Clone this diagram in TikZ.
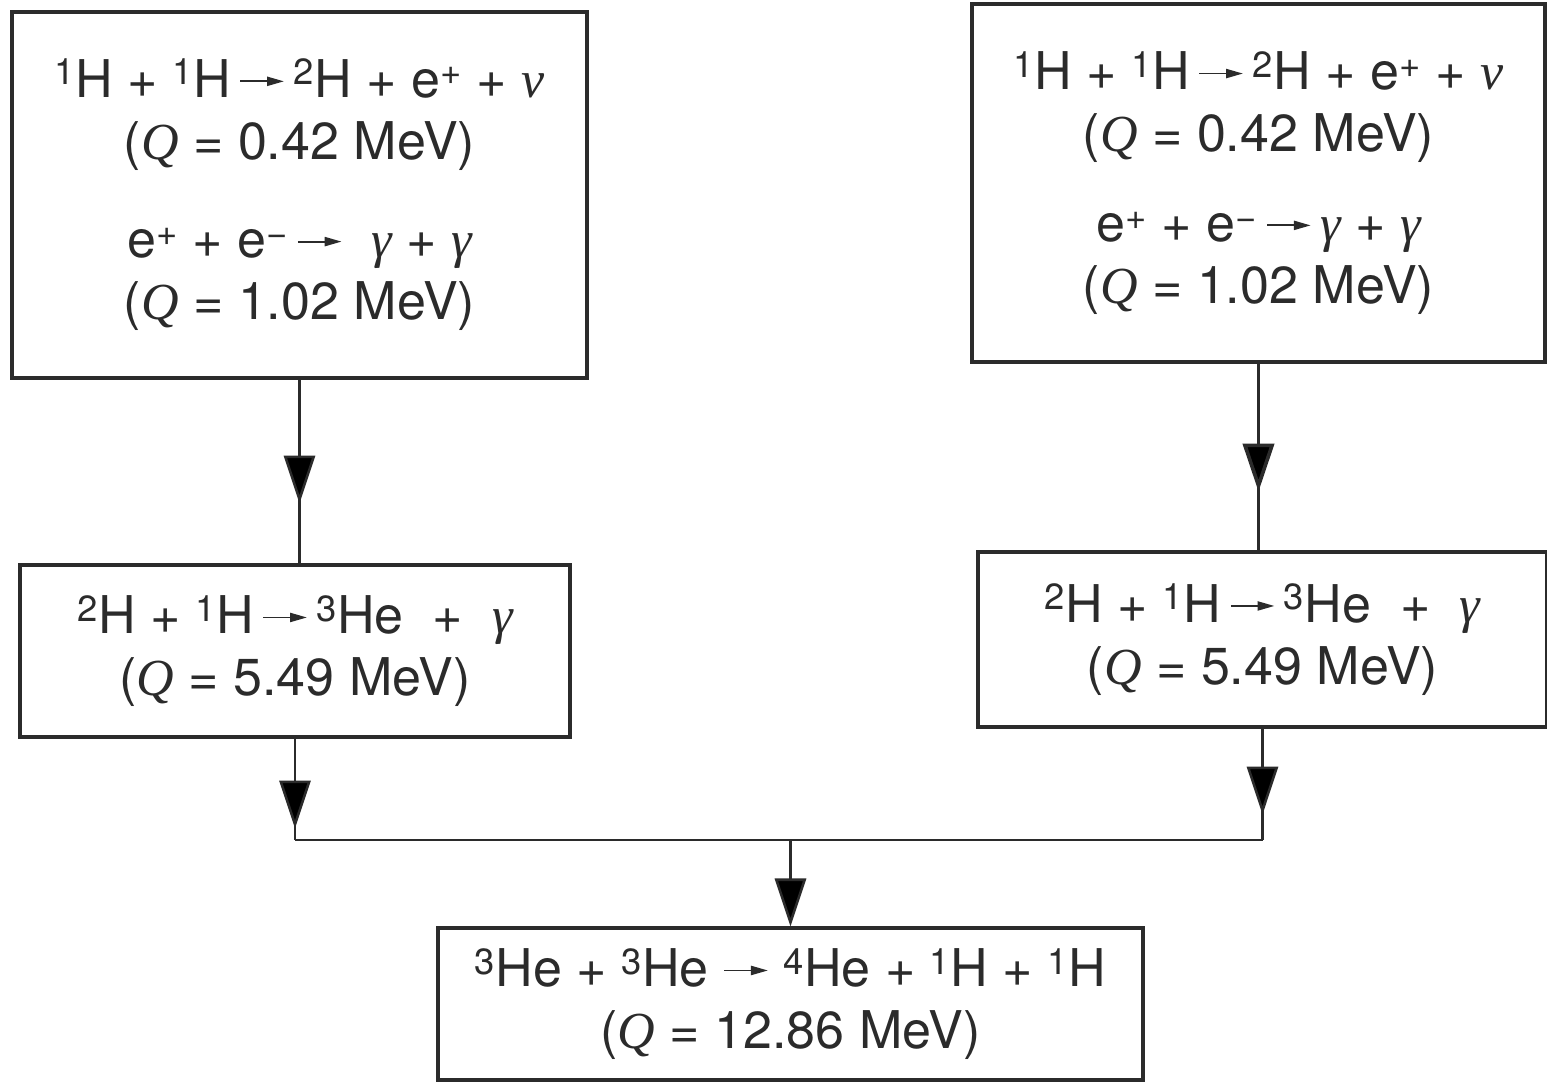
\documentclass[tikz,border=0pt]{standalone}
\usepackage{fontspec}
\setmainfont{TeX Gyre Heros}
\newfontfamily\serifit{Liberation Serif}
\usetikzlibrary{arrows.meta,decorations.markings}
\definecolor{ink}{HTML}{2B2B2B}
\newcommand\rarr{\tikz[baseline=-0.6ex]\draw[ink,line width=1.3pt,-{Triangle[length=12pt,width=6.5pt]}] (0,0)--(31pt,0);}
\newcommand\isup[1]{\textsuperscript{#1}}
\newcommand\vQ{{\serifit\itshape Q}}
\newcommand\vg{{\serifit\itshape γ}}
\newcommand\vn{{\serifit\itshape ν}}
\begin{document}
\begin{tikzpicture}[
  box/.style={draw=ink, line width=2.2pt, align=center, inner sep=0pt,
    font=\fontsize{37}{44}\selectfont, text=ink},
  conn/.style={draw=ink, line width=1.8pt},
  midarrow/.style={postaction={decorate}, decoration={markings,
    mark=at position #1 with {\arrow{Triangle[length=1.2cm,width=0.78cm]}}}},
]
\useasboundingbox (0,0) rectangle (38.675,-27.15);

\node[box, minimum width=14.375cm, minimum height=9.15cm] (tl) at (7.4875,-4.875)
  {\isup{1}H + \isup{1}H\,\rarr\,\isup{2}H + e\isup{+} + \vn\\
   (\vQ\ = 0.42 MeV)\\[26pt]
   e\isup{+} + e\isup{−}\,\rarr\ \ \vg\ + \vg\\
   (\vQ\ = 1.02 MeV)};

\node[box, minimum width=14.325cm, minimum height=8.95cm] (tr) at (31.4625,-4.575)
  {\isup{1}H + \isup{1}H\,\rarr\,\isup{2}H + e\isup{+} + \vn\\
   (\vQ\ = 0.42 MeV)\\[20pt]
   e\isup{+} + e\isup{−}\,\rarr\,\vg\ + \vg\\
   (\vQ\ = 1.02 MeV)};

\node[box, minimum width=13.75cm, minimum height=4.3cm] (ml) at (7.375,-16.275)
  {\isup{2}H + \isup{1}H\,\rarr\,\isup{3}He~~+~~\vg\\
   (\vQ\ = 5.49 MeV)};

\node[box, minimum width=14.225cm, minimum height=4.375cm] (mr) at (31.5625,-15.9875)
  {\isup{2}H + \isup{1}H\,\rarr\,\isup{3}He~~+~~\vg\\
   (\vQ\ = 5.49 MeV)};

\node[box, minimum width=17.625cm, minimum height=3.8cm] (bot) at (19.7625,-25.1)
  {\isup{3}He + \isup{3}He \rarr\ \isup{4}He + \isup{1}H + \isup{1}H\\
   (\vQ\ = 12.86 MeV)};

\coordinate (hy) at (0,-21.0);
\coordinate (jl) at (ml.south |- hy);
\coordinate (jr) at (mr.south |- hy);
\coordinate (jc) at (bot.north |- hy);

\draw[conn, midarrow=3.1cm] (tl.south) -- (tl.south |- ml.north);
\draw[conn, line width=2.6pt, midarrow=3.2cm] (tr.south) -- (tr.south |- mr.north);
\draw[conn, midarrow=2.25cm] (ml.south) -- (jl);
\draw[conn, midarrow=2.15cm] (mr.south) -- (jr);
\draw[conn] (jl) -- (jr);
\draw[conn, -{Triangle[length=1.2cm,width=0.78cm]}] (jc) -- (bot.north);
\end{tikzpicture}
\end{document}
